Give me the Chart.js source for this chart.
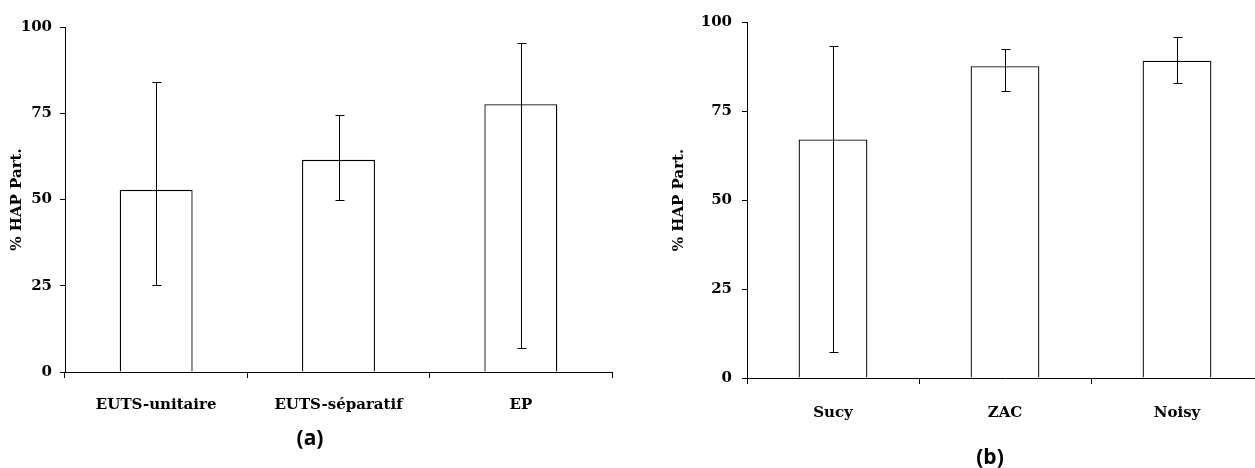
<!DOCTYPE html>
<html>
<head>
<meta charset="utf-8">
<script src="https://cdn.jsdelivr.net/npm/chart.js@4.4.1/dist/chart.umd.min.js"></script>
<style>
  html, body { margin: 0; padding: 0; background: #fff; width: 1255px; height: 468px; overflow: hidden; position: relative; }
  canvas { position: absolute; top: 0; }
  #ca { left: 0px; }
  #cb { left: 662px; }
  .lbl { position: absolute; font-family: "Open Sans", "Noto Sans", sans-serif; font-weight: bold; font-size: 21px; color: #000; transform: translate(-50%, -50%); white-space: nowrap; }
</style>
</head>
<body>
<canvas id="ca" width="640" height="468"></canvas>
<canvas id="cb" width="620" height="468"></canvas>
<div class="lbl" style="left:310px; top:437px;">(a)</div>
<div class="lbl" style="left:990px; top:456px;">(b)</div>
<script>
// ---- data ----
const catsA = ['EUTS-unitaire', 'EUTS-séparatif', 'EP'];
const valsA = [52.8, 61.5, 77.6];
const errHiA = [84.1, 74.6, 95.4];
const errLoA = [25.2, 50.0, 7.0];

const catsB = ['Sucy', 'ZAC', 'Noisy'];
const valsB = [67.0, 87.6, 89.1];
const errHiB = [93.2, 92.5, 95.7];
const errLoB = [7.3, 80.5, 82.9];

const yTicks = [0, 25, 50, 75, 100];
const yTitle = '% HAP Part.';

// ---- error bar plugin ----
const errorBars = {
  id: 'errorBars',
  afterDatasetsDraw(chart, args, opts) {
    const ctx = chart.ctx;
    const meta = chart.getDatasetMeta(0);
    const ys = chart.scales.y;
    ctx.save();
    ctx.strokeStyle = '#000';
    ctx.lineWidth = 1;
    meta.data.forEach((bar, i) => {
      const x = Math.round(bar.x) + 0.5;
      const yt = Math.round(ys.getPixelForValue(opts.hi[i])) + 0.5;
      const yb = Math.round(ys.getPixelForValue(opts.lo[i])) + 0.5;
      ctx.beginPath();
      ctx.moveTo(x, yt); ctx.lineTo(x, yb);
      ctx.moveTo(x - 4, yt); ctx.lineTo(x + 5, yt);
      ctx.moveTo(x - 4, yb); ctx.lineTo(x + 5, yb);
      ctx.stroke();
    });
    ctx.restore();
  }
};

const tickFont = { family: '"DejaVu Serif", "Liberation Serif", serif', weight: 'bold', size: 15 };

function makeChart(id, cats, vals, hi, lo, yw, xh, pad, titlePad, tickPadY, tickPadX) {
  return new Chart(document.getElementById(id), {
    type: 'bar',
    data: {
      labels: cats,
      datasets: [{
        data: vals,
        backgroundColor: '#ffffff',
        borderColor: '#000000',
        borderWidth: 1.3,
        categoryPercentage: 1.0,
        barPercentage: 0.4
      }]
    },
    options: {
      responsive: false,
      animation: false,
      layout: { padding: pad },
      plugins: {
        legend: { display: false },
        tooltip: { enabled: false },
        errorBars: { hi: hi, lo: lo }
      },
      scales: {
        x: {
          offset: true,
          grid: { display: true, offset: true, drawOnChartArea: false, drawTicks: true, tickLength: 6, color: '#000' },
          border: { display: true, color: '#000', width: 1 },
          ticks: { color: '#000', font: tickFont, padding: tickPadX, maxRotation: 0, autoSkip: false },
          afterFit(s) { s.height = xh; }
        },
        y: {
          min: 0, max: 100,
          afterBuildTicks(s) { s.ticks = yTicks.map(v => ({ value: v })); },
          grid: { display: true, drawOnChartArea: false, drawTicks: true, tickLength: 5, color: '#000' },
          border: { display: true, color: '#000', width: 1 },
          ticks: { color: '#000', font: tickFont, padding: tickPadY },
          title: { display: true, text: yTitle, color: '#000', font: tickFont, padding: { top: titlePad, bottom: 0 } },
          afterFit(s) { s.width = yw; }
        }
      }
    },
    plugins: [errorBars]
  });
}

makeChart('ca', catsA, valsA, errHiA, errLoA, 65, 96, { top: 27, right: 28, left: 0, bottom: 0 }, 8, 8, 18);
makeChart('cb', catsB, valsB, errHiB, errLoB, 85, 90, { top: 22, right: 19, left: 0, bottom: 0 }, 8, 10, 20);
</script>
</body>
</html>
